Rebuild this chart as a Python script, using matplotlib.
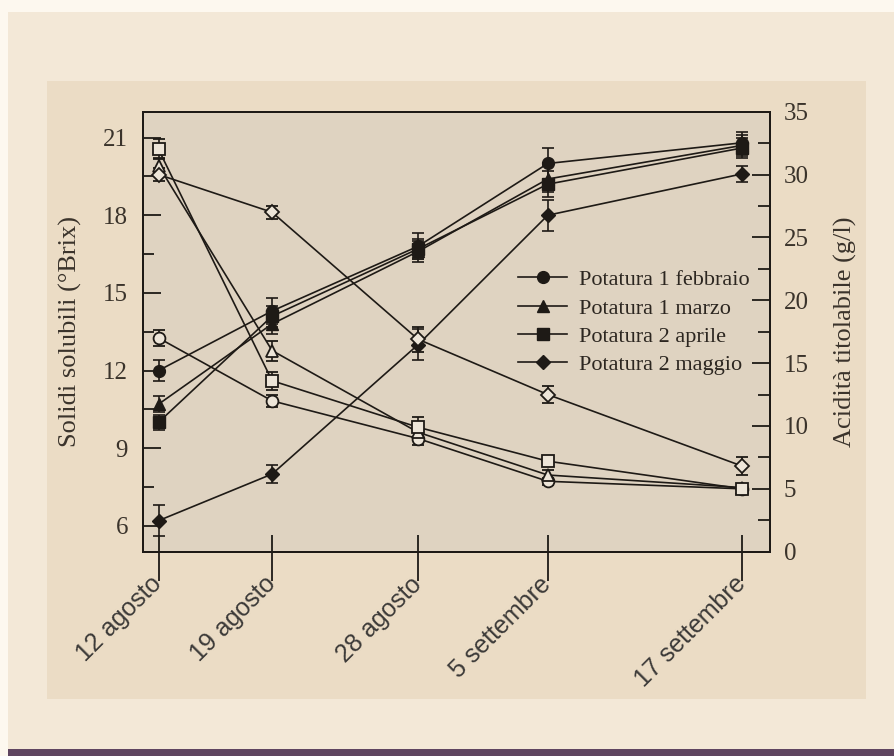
import matplotlib
matplotlib.use("Agg")
import matplotlib.pyplot as plt
from matplotlib.patches import Rectangle
from matplotlib.ticker import MultipleLocator, FixedLocator
from matplotlib.transforms import ScaledTranslation

# date di campionamento (giorni dal 12 agosto)
date_labels = ['12 agosto', '19 agosto', '28 agosto', '5 settembre', '17 settembre']
giorni = [0, 7, 16, 24, 36]

# solidi solubili (°Brix) - asse sinistro, simboli pieni
brix_feb = [12.0, 14.3, 16.8, 20.0, 20.8]
brix_feb_err = [0.4, 0.5, 0.5, 0.6, 0.4]
brix_mar = [10.7, 13.8, 16.6, 19.4, 20.7]
brix_mar_err = [0.3, 0.4, 0.4, 0.5, 0.4]
brix_apr = [10.0, 14.1, 16.7, 19.2, 20.6]
brix_apr_err = [0.3, 0.4, 0.4, 0.5, 0.4]
brix_mag = [6.2, 8.0, 13.0, 18.0, 19.6]
brix_mag_err = [0.6, 0.35, 0.6, 0.6, 0.3]

# acidita' titolabile (g/l) - asse destro, simboli vuoti
acid_feb = [17.0, 12.0, 9.0, 5.6, 5.0]
acid_feb_err = [0.6, 0.5, 0.5, 0.3, 0.3]
acid_mar = [30.7, 16.0, 9.5, 6.1, 5.1]
acid_mar_err = [0.6, 0.8, 0.5, 0.4, 0.3]
acid_apr = [32.0, 13.6, 9.9, 7.2, 5.0]
acid_apr_err = [0.8, 0.7, 0.8, 0.3, 0.3]
acid_mag = [30.0, 27.0, 16.9, 12.5, 6.8]
acid_mag_err = [0.5, 0.5, 1.0, 0.7, 0.7]

etichette = ['Potatura 1 febbraio', 'Potatura 1 marzo', 'Potatura 2 aprile', 'Potatura 2 maggio']
simboli = ['o', '^', 's', 'D']
msize = [8.5, 9, 8, 7]

W, H = 895, 756
nero = '#1e1a16'
testo = '#3a332b'
serif = ['Liberation Serif', 'DejaVu Serif']

fig = plt.figure(figsize=(W / 100, H / 100), dpi=100, facecolor='#fdf8ef')

def px_rect(x0, y0, x1, y1, col):
    # rettangolo in pixel (origine in alto a sinistra)
    fig.patches.append(Rectangle((x0 / W, 1 - y1 / H), (x1 - x0) / W, (y1 - y0) / H,
                                 transform=fig.transFigure, facecolor=col,
                                 edgecolor='none', zorder=-10))

px_rect(8, 12, W, H, '#f3e8d7')
px_rect(8, 749, W, H, '#5f4560')
px_rect(47, 81, 866, 699, '#ebdcc5')

ax = fig.add_axes([143.3 / W, 1 - 551.7 / H, (770 - 143.3) / W, (551.7 - 111.7) / H])
ax.set_facecolor('#dfd3c1')
ax2 = ax.twinx()

brix = [brix_feb, brix_mar, brix_apr, brix_mag]
brix_err = [brix_feb_err, brix_mar_err, brix_apr_err, brix_mag_err]
acid = [acid_feb, acid_mar, acid_apr, acid_mag]
acid_err = [acid_feb_err, acid_mar_err, acid_apr_err, acid_mag_err]

handles = []
for i in range(4):
    c = ax.errorbar(giorni, brix[i], yerr=brix_err[i], marker=simboli[i], ms=msize[i],
                    color=nero, mfc=nero, mec=nero, lw=1.2, elinewidth=1.2,
                    capsize=4.5, capthick=1.2)
    handles.append(c[0])
    ax2.errorbar(giorni, acid[i], yerr=acid_err[i], marker=simboli[i], ms=msize[i],
                 color=nero, mfc='#ede5d8', mec=nero, mew=1.3, lw=1.2, elinewidth=1.2,
                 capsize=4.5, capthick=1.2)

ax.set_xlim(-0.94, 37.7)
ax.set_ylim(5, 22)
ax2.set_ylim(0, 35)

ax.yaxis.set_major_locator(FixedLocator([6, 9, 12, 15, 18, 21]))
ax.yaxis.set_minor_locator(FixedLocator([7.5, 10.5, 13.5, 16.5, 19.5]))
ax2.yaxis.set_major_locator(MultipleLocator(5))
ax2.yaxis.set_minor_locator(MultipleLocator(2.5))

ax.set_xticks(giorni)
ax.set_xticklabels(date_labels)
ax.xaxis.remove_overlapping_locs = False
ax.xaxis.set_minor_locator(FixedLocator(giorni))

for s in ax.spines.values():
    s.set_color(nero)
    s.set_linewidth(1.4)
for s in ax2.spines.values():
    s.set_color(nero)
    s.set_linewidth(1.4)

ax.tick_params(axis='x', which='major', direction='out', length=21, width=1.3,
               color=nero, pad=3, labelsize=18, labelcolor='#3c3a38')
ax.tick_params(axis='x', which='minor', direction='in', length=12, width=1.3, color=nero)
ax.tick_params(axis='y', which='major', direction='in', length=13, width=1.3,
               color=nero, pad=11, labelsize=18, labelcolor=testo)
ax.tick_params(axis='y', which='minor', direction='in', length=8, width=1.3, color=nero)
ax2.tick_params(axis='y', which='major', direction='in', length=13, width=1.3,
                color=nero, pad=10, labelsize=18, labelcolor=testo)
ax2.tick_params(axis='y', which='minor', direction='in', length=9, width=1.3, color=nero)

# etichette date inclinate, spostate verso la fine del tick
shift = ScaledTranslation(-9 / 100, 13 / 100, fig.dpi_scale_trans)
for lab in ax.get_xticklabels():
    lab.set_rotation(45)
    lab.set_ha('right')
    lab.set_va('top')
    lab.set_rotation_mode('anchor')
    lab.set_family(['Liberation Sans', 'DejaVu Sans'])
    lab.set_transform(lab.get_transform() + shift)
for lab in ax.get_yticklabels() + ax2.get_yticklabels():
    lab.set_family(serif)

ax.set_ylabel('Solidi solubili (°Brix)', fontsize=19, color=testo, family=serif)
ax.yaxis.set_label_coords((70 - 143.3) / 626.7, 0.5)
ax.yaxis.label.set_va('center')
ax2.set_ylabel('Acidità titolabile (g/l)', fontsize=19, color=testo, family=serif)
ax2.yaxis.set_label_coords((845 - 143.3) / 626.7, 0.5)
ax2.yaxis.label.set_va('center')

leg = ax2.legend(handles, etichette, loc='upper left', bbox_to_anchor=(0.598, 0.641),
                 frameon=False, borderpad=0, borderaxespad=0, handlelength=2.2,
                 handletextpad=0.55, labelspacing=0.35,
                 prop={'family': serif, 'size': 16})
for t in leg.get_texts():
    t.set_color('#2c2620')

fig.savefig('out.png', dpi=100, facecolor=fig.get_facecolor())
